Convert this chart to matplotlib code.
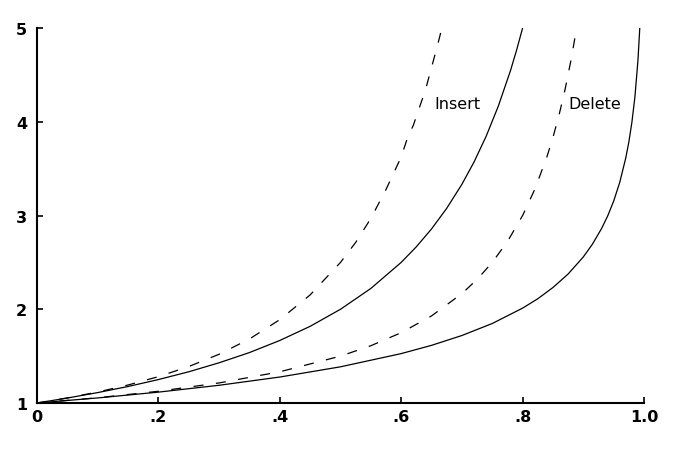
import matplotlib
matplotlib.use("Agg")
import matplotlib.pyplot as plt

# load factor vs expected probes
ins_lin_x = [0, 0.05, 0.1, 0.15, 0.2, 0.25, 0.3, 0.35, 0.4, 0.45, 0.5, 0.525, 0.55, 0.575,
             0.6, 0.61, 0.62, 0.63, 0.64, 0.65, 0.66, 0.667]
ins_lin_y = [1.0, 1.054, 1.117, 1.192, 1.281, 1.389, 1.520, 1.683, 1.889, 2.153, 2.5, 2.713,
             2.969, 3.278, 3.625, 3.822, 3.963, 4.152, 4.34, 4.58, 4.82, 5.0]

ins_uni_x = [0, 0.05, 0.1, 0.15, 0.2, 0.25, 0.3, 0.35, 0.4, 0.45, 0.5, 0.55, 0.6, 0.625, 0.65,
             0.675, 0.7, 0.72, 0.74, 0.76, 0.78, 0.79, 0.8]
ins_uni_y = [1.0, 1.053, 1.111, 1.176, 1.25, 1.333, 1.429, 1.538, 1.667, 1.818, 2.0, 2.222, 2.5,
             2.667, 2.857, 3.077, 3.333, 3.571, 3.846, 4.167, 4.545, 4.762, 5.0]

del_lin_x = [0, 0.1, 0.2, 0.3, 0.4, 0.5, 0.55, 0.6, 0.65, 0.7, 0.725, 0.75, 0.775, 0.8, 0.82,
             0.84, 0.85, 0.86, 0.87, 0.88, 0.889]
del_lin_y = [1.0, 1.056, 1.125, 1.214, 1.333, 1.5, 1.611, 1.75, 1.929, 2.167, 2.318, 2.5, 2.722,
             3.0, 3.278, 3.625, 3.833, 4.071, 4.346, 4.667, 5.0]

del_uni_x = [0, 0.1, 0.2, 0.3, 0.4, 0.5, 0.6, 0.65, 0.7, 0.75, 0.8, 0.825, 0.85, 0.875, 0.9,
             0.915, 0.93, 0.94, 0.95, 0.96, 0.97, 0.975, 0.98, 0.985, 0.99, 0.993]
del_uni_y = [1.0, 1.054, 1.116, 1.189, 1.277, 1.386, 1.527, 1.615, 1.720, 1.848, 2.012, 2.112,
             2.232, 2.376, 2.558, 2.694, 2.860, 2.993, 3.153, 3.353, 3.615, 3.783, 3.992, 4.264,
             4.652, 4.997]

xticks = [0, 0.2, 0.4, 0.6, 0.8, 1.0]
xticklabels = ["0", ".2", ".4", ".6", ".8", "1.0"]
yticks = [1, 2, 3, 4, 5]

fig = plt.figure(figsize=(6.74, 4.52), dpi=100)
ax = fig.add_axes([0.0549, 0.1062, 0.9006, 0.8296])

dash = (0, (8, 10))
ax.plot(ins_lin_x, ins_lin_y, color="black", lw=0.9, linestyle=dash)
ax.plot(ins_uni_x, ins_uni_y, color="black", lw=0.9)
ax.plot(del_lin_x, del_lin_y, color="black", lw=0.9, linestyle=dash)
ax.plot(del_uni_x, del_uni_y, color="black", lw=0.9)

ax.text(0.654, 4.2, "Insert", fontsize=11.5, family="DejaVu Sans", va="center", ha="left")
ax.text(0.875, 4.2, "Delete", fontsize=11.5, family="DejaVu Sans", va="center", ha="left")

ax.set_xlim(0, 1.0)
ax.set_ylim(1, 5)
ax.set_xticks(xticks)
ax.set_xticklabels(xticklabels, fontweight="bold", fontsize=11.5)
ax.set_yticks(yticks)
ax.set_yticklabels([str(v) for v in yticks], fontweight="bold", fontsize=11.5)
ax.tick_params(direction="in", length=4, width=1.2, pad=4)
ax.tick_params(axis="y", pad=7)
ax.spines["top"].set_visible(False)
ax.spines["right"].set_visible(False)
ax.spines["left"].set_linewidth(1.5)
ax.spines["bottom"].set_linewidth(1.5)

fig.savefig("out.png", dpi=100)
